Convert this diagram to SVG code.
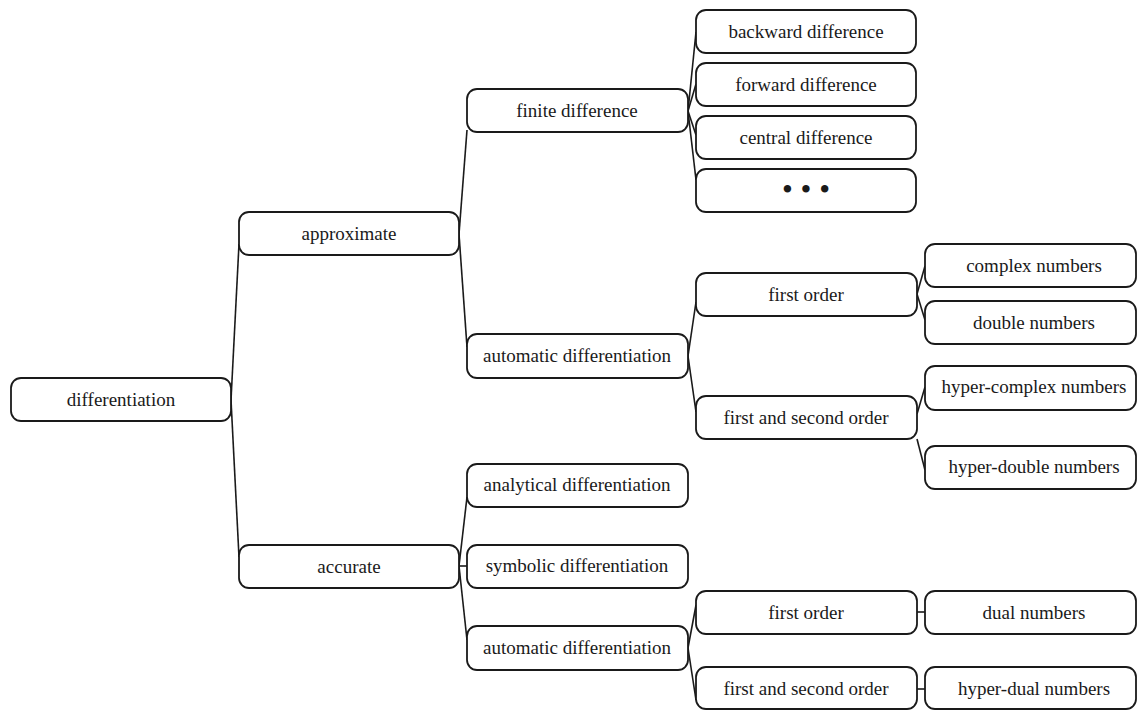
<svg xmlns="http://www.w3.org/2000/svg" width="1137" height="710" viewBox="0 0 1137 710">
<style>
  .n rect { fill: #fff; stroke: #1a1a1a; stroke-width: 1.8; }
  .n text { font-family: "Liberation Serif", "Times New Roman", serif; font-size: 19px; fill: #1a1a1a; text-anchor: middle; }
  .c line { stroke: #1a1a1a; stroke-width: 1.6; }
  .dots { font-size: 31px !important; }
</style>
<rect width="1137" height="710" fill="#fff"/>
<g id="connectors" class="c">
  <line x1="231" y1="400" x2="239" y2="244"/>
  <line x1="231" y1="400" x2="239" y2="557"/>
  <line x1="459" y1="234" x2="467" y2="130"/>
  <line x1="459" y1="234" x2="467" y2="347"/>
  <line x1="459" y1="566" x2="467" y2="497"/>
  <line x1="459" y1="566" x2="467" y2="566"/>
  <line x1="459" y1="566" x2="467" y2="640"/>
  <line x1="688" y1="111" x2="696" y2="32"/>
  <line x1="688" y1="111" x2="696" y2="84"/>
  <line x1="688" y1="111" x2="696" y2="135"/>
  <line x1="688" y1="111" x2="696" y2="180"/>
  <line x1="688" y1="356" x2="696" y2="302"/>
  <line x1="688" y1="356" x2="696" y2="412"/>
  <line x1="917" y1="294" x2="925" y2="266"/>
  <line x1="917" y1="294" x2="925" y2="320"/>
  <line x1="917" y1="414" x2="925" y2="387"/>
  <line x1="917" y1="439" x2="925" y2="470"/>
  <line x1="688" y1="648" x2="696" y2="605"/>
  <line x1="688" y1="648" x2="696" y2="700"/>
  <line x1="917" y1="612" x2="925" y2="612"/>
  <line x1="917" y1="689" x2="925" y2="689"/>
</g>
<g id="n-differentiation" class="n"><rect x="11" y="378" width="220" height="43" rx="10"/><text x="121" y="406">differentiation</text></g>
<g id="n-approximate" class="n"><rect x="239" y="212" width="220" height="43" rx="10"/><text x="349" y="240">approximate</text></g>
<g id="n-accurate" class="n"><rect x="239" y="545" width="220" height="43" rx="10"/><text x="349" y="573">accurate</text></g>
<g id="n-finite" class="n"><rect x="467" y="89" width="221" height="43" rx="10"/><text x="577" y="117">finite difference</text></g>
<g id="n-auto1" class="n"><rect x="467" y="334" width="221" height="44" rx="10"/><text x="577" y="362">automatic differentiation</text></g>
<g id="n-analytical" class="n"><rect x="467" y="464" width="221" height="43" rx="10"/><text x="577" y="491">analytical differentiation</text></g>
<g id="n-symbolic" class="n"><rect x="467" y="545" width="221" height="43" rx="10"/><text x="577" y="572">symbolic differentiation</text></g>
<g id="n-auto2" class="n"><rect x="467" y="626" width="221" height="44" rx="10"/><text x="577" y="654">automatic differentiation</text></g>
<g id="n-backward" class="n"><rect x="696" y="10" width="220" height="43" rx="10"/><text x="806" y="38">backward difference</text></g>
<g id="n-forward" class="n"><rect x="696" y="63" width="220" height="43" rx="10"/><text x="806" y="91">forward difference</text></g>
<g id="n-central" class="n"><rect x="696" y="116" width="220" height="43" rx="10"/><text x="806" y="144">central difference</text></g>
<g id="n-etc" class="n"><rect x="696" y="169" width="220" height="43" rx="10"/><text class="dots" x="806" y="200">• • •</text></g>
<g id="n-first1" class="n"><rect x="696" y="273" width="221" height="43" rx="10"/><text x="806" y="301">first order</text></g>
<g id="n-firstsecond1" class="n"><rect x="696" y="396" width="221" height="43" rx="10"/><text x="806" y="424">first and second order</text></g>
<g id="n-first2" class="n"><rect x="696" y="591" width="221" height="43" rx="10"/><text x="806" y="619">first order</text></g>
<g id="n-firstsecond2" class="n"><rect x="696" y="667" width="221" height="42" rx="10"/><text x="806" y="695">first and second order</text></g>
<g id="n-complex" class="n"><rect x="925" y="244" width="211" height="43" rx="10"/><text x="1034" y="272">complex numbers</text></g>
<g id="n-double" class="n"><rect x="925" y="301" width="211" height="43" rx="10"/><text x="1034" y="329">double numbers</text></g>
<g id="n-hypercomplex" class="n"><rect x="925" y="366" width="211" height="44" rx="10"/><text x="1034" y="393">hyper-complex numbers</text></g>
<g id="n-hyperdouble" class="n"><rect x="925" y="446" width="211" height="43" rx="10"/><text x="1034" y="473">hyper-double numbers</text></g>
<g id="n-dual" class="n"><rect x="925" y="591" width="211" height="43" rx="10"/><text x="1034" y="619">dual numbers</text></g>
<g id="n-hyperdual" class="n"><rect x="925" y="667" width="211" height="42" rx="10"/><text x="1034" y="695">hyper-dual numbers</text></g>
</svg>
